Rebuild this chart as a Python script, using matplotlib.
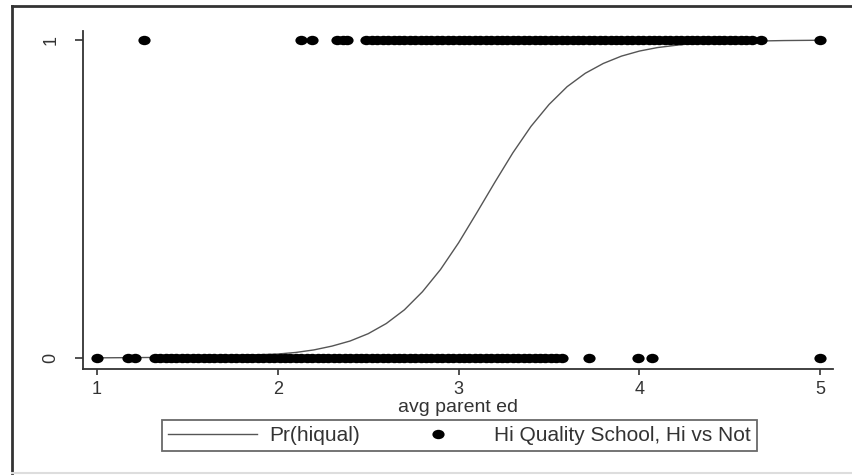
import matplotlib.pyplot as plt
from matplotlib.lines import Line2D
from matplotlib.path import Path
from matplotlib.transforms import Affine2D

plt.rcParams['font.family'] = ['Liberation Sans', 'DejaVu Sans']

# predicted probability curve
curve_x = [1.0, 1.5, 2.0, 2.1, 2.2, 2.3, 2.4, 2.5, 2.6, 2.7, 2.8, 2.9, 3.0, 3.1, 3.2,
           3.3, 3.4, 3.5, 3.6, 3.7, 3.8, 3.9, 4.0, 4.1, 4.2, 4.3, 4.4, 4.6, 4.8, 5.0]
curve_p = [0.000, 0.002, 0.012, 0.017, 0.025, 0.037, 0.053, 0.076, 0.108, 0.151, 0.208,
           0.278, 0.362, 0.456, 0.552, 0.645, 0.728, 0.797, 0.853, 0.895, 0.926, 0.949,
           0.965, 0.976, 0.983, 0.989, 0.992, 0.996, 0.998, 0.999]

# observed hiqual = 1
hi_x = [1.26, 2.13, 2.19, 2.33, 2.36, 2.385,
        2.49, 2.52, 2.55, 2.58, 2.61, 2.64, 2.67, 2.70, 2.73, 2.76, 2.79, 2.82, 2.85,
        2.88, 2.91, 2.94, 2.97, 3.00, 3.03, 3.06, 3.09, 3.12, 3.15, 3.18, 3.21, 3.24,
        3.27, 3.30, 3.33, 3.36, 3.39, 3.42, 3.45, 3.48, 3.51, 3.54, 3.57, 3.60, 3.63,
        3.66, 3.69, 3.72, 3.75, 3.78, 3.81, 3.84, 3.87, 3.90, 3.93, 3.96, 3.99, 4.02,
        4.05, 4.08, 4.11, 4.14, 4.17, 4.20, 4.23, 4.26, 4.29, 4.32, 4.35, 4.38, 4.41,
        4.44, 4.47, 4.50, 4.53, 4.56, 4.59, 4.62, 4.67, 5.00]
# observed hiqual = 0
lo_x = [1.00, 1.17, 1.21,
        1.32, 1.35, 1.38, 1.41, 1.44, 1.47, 1.50, 1.53, 1.56, 1.59, 1.62, 1.65, 1.68,
        1.71, 1.74, 1.77, 1.80, 1.83, 1.86, 1.89, 1.92, 1.95, 1.98, 2.01, 2.04, 2.07,
        2.10, 2.13, 2.16, 2.19, 2.22, 2.25, 2.28, 2.31, 2.34, 2.37, 2.40, 2.43, 2.46,
        2.49, 2.52, 2.55, 2.58, 2.61, 2.64, 2.67, 2.70, 2.73, 2.76, 2.79, 2.82, 2.85,
        2.88, 2.91, 2.94, 2.97, 3.00, 3.03, 3.06, 3.09, 3.12, 3.15, 3.18, 3.21, 3.24,
        3.27, 3.30, 3.33, 3.36, 3.39, 3.42, 3.45, 3.48, 3.51, 3.54, 3.57,
        3.72, 3.99, 4.07, 5.00]

# slightly wide dot, like the stretched Stata markers
dot = Path.unit_circle().transformed(Affine2D().scale(1.3, 1.0))

fig = plt.figure(figsize=(8.52, 4.75), dpi=100)
ax = fig.add_axes([0.0974, 0.2232, 0.8803, 0.7115])

ax.plot(curve_x, curve_p, color='#555555', lw=1.0, label='Pr(hiqual)', zorder=2)
ax.plot(hi_x + lo_x, [1] * len(hi_x) + [0] * len(lo_x), linestyle='none', marker=dot,
        color='black', ms=8.8, mew=0, label='Hi Quality School, Hi vs Not', zorder=3)

ax.set_xlim(0.923, 5.07)
ax.set_ylim(-0.035, 1.028)
ax.set_xticks([1, 2, 3, 4, 5])
ax.set_yticks([0, 1])
ax.set_yticklabels(['0', '1'], rotation=90, va='center')
ax.tick_params(axis='both', colors='#333333', labelcolor='#333333', labelsize=13, width=1.2)
ax.tick_params(axis='x', length=4, pad=5)
ax.tick_params(axis='y', length=6, pad=11)
for s in ['top', 'right']:
    ax.spines[s].set_visible(False)
for s in ['left', 'bottom']:
    ax.spines[s].set_color('#333333')
    ax.spines[s].set_linewidth(1.3)

ax.set_xlabel('avg parent ed', fontsize=14, color='#333333', labelpad=0.5)

leg = fig.legend(loc='center', bbox_to_anchor=(0.539, 0.083), ncol=2, fontsize=15,
                 frameon=True, fancybox=False, handlelength=4.3, handletextpad=0.55,
                 columnspacing=1.6, borderpad=0.3, labelcolor='#333333')
leg.get_frame().set_edgecolor('#444444')
leg.get_frame().set_linewidth(1.3)

# outer graph frame
fig.add_artist(Line2D([0.0141, 0.0141], [0.004, 0.987], color='#333333', lw=2))
fig.add_artist(Line2D([0.0141, 1.0], [0.987, 0.987], color='#333333', lw=2))
fig.add_artist(Line2D([0.0141, 1.0], [0.004, 0.004], color='#dddddd', lw=1.5))

fig.savefig('out.png', dpi=100)
